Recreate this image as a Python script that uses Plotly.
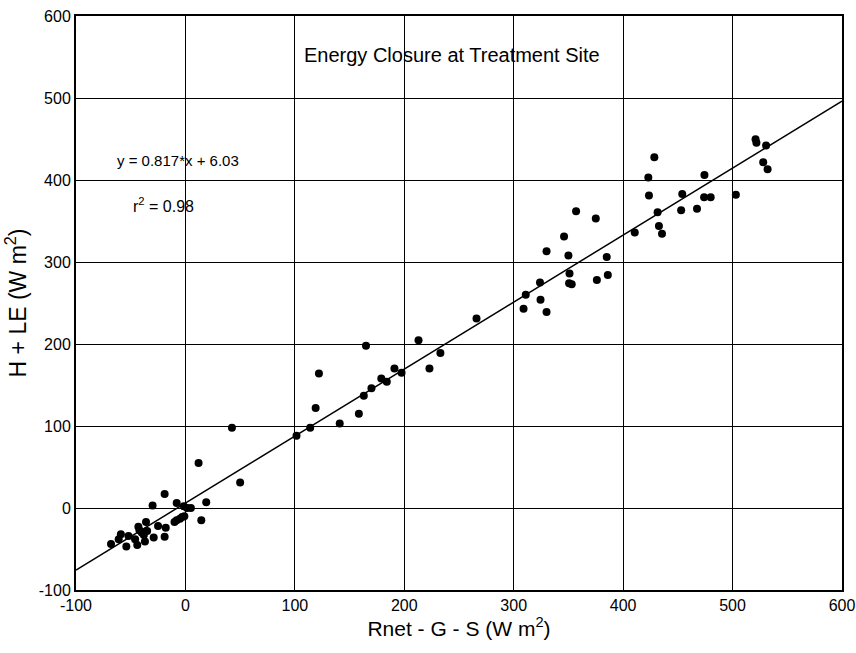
import plotly.graph_objects as go

# Observed points: Rnet - G - S (x) vs H + LE (y), W m^-2
x_obs = [-68, -61, -59, -54, -52, -44, -46, -43, -42, -40, -38, -35, -37, -36, -29, -30,
         -25, -19, -18, -19, -10, -8, -5, -3, -1, -8, -1.5, 1.5, 5, 12, 14.5, 19, 42.5, 50,
         101.5, 114, 119, 122, 141, 158.5, 163, 165, 170, 179, 184, 191, 197.5, 213, 223,
         233, 266, 309, 311, 324.5, 324, 330, 330, 346, 350, 351, 350.6, 353, 376, 386, 385,
         410.6, 357, 375, 423, 428.5, 423.6, 431.5, 432.7, 435.5, 453, 454, 467.5, 474,
         474.3, 480, 503, 521, 521.8, 530.6, 528, 532]
y_obs = [-44, -38, -32, -47, -34, -45, -38, -23, -27, -30, -33, -28, -41, -17, -36, 3,
         -22, 17, -24, -35, -17, -15, -13, -11, -10, 6, 2, 0, 0, 55, -15, 7, 98, 31,
         88, 98, 122, 164, 103, 115, 137, 198, 146, 158, 154, 170, 165, 204.5, 170,
         189, 231, 243, 260, 254, 275, 239, 313, 331, 308, 286, 274, 273, 278, 284, 306,
         336, 362, 353, 403, 427.6, 381, 360.6, 344, 334.5, 363, 383, 365, 379,
         406, 379, 382, 449.6, 445.5, 442, 421.6, 413]

# Linear fit
slope = 0.817
intercept = 6.03
fit_x = [-100, 600]
fit_y = [slope * v + intercept for v in fit_x]

x_ticks = [-100, 0, 100, 200, 300, 400, 500, 600]
x_tick_labels = ["-100", "0", "100", "200", "300", "400", "500", "600"]
y_ticks = [-100, 0, 100, 200, 300, 400, 500, 600]
y_tick_labels = ["-100", "0", "100", "200", "300", "400", "500", "600"]

FONT = "Liberation Sans, Arial"

fig = go.Figure()
fig.add_trace(go.Scatter(x=fit_x, y=fit_y, mode="lines",
                         line=dict(color="black", width=1.5), showlegend=False))
fig.add_trace(go.Scatter(x=x_obs, y=y_obs, mode="markers",
                         marker=dict(color="black", size=8), showlegend=False))

ax_common = dict(showgrid=True, gridcolor="black", gridwidth=1, zeroline=False,
                 showline=True, linecolor="black", linewidth=2, mirror=True,
                 automargin=False,
                 ticks="", tickfont=dict(family=FONT, size=16, color="black"))

fig.update_xaxes(range=[-100, 600], tickvals=x_ticks, ticktext=x_tick_labels,
                 title=dict(text="Rnet - G - S (W m<sup>2</sup>)",
                            font=dict(family=FONT, size=21, color="black"),
                            standoff=8),
                 **ax_common)
fig.update_yaxes(range=[-100, 600], tickvals=y_ticks, ticktext=y_tick_labels,
                 title=dict(text="H + LE (W m<sup>2</sup>)",
                            font=dict(family=FONT, size=23, color="black"),
                            standoff=6),
                 **ax_common)

fig.add_annotation(x=244, y=553, text="Energy Closure at Treatment Site", showarrow=False,
                   font=dict(family=FONT, size=20, color="black"))
fig.add_annotation(x=-64, y=424, text="y = 0.817*x + 6.03", showarrow=False, xanchor="left",
                   font=dict(family=FONT, size=15, color="black"))
fig.add_annotation(x=-50, y=370, text="r<sup>2</sup> = 0.98", showarrow=False, xanchor="left",
                   font=dict(family=FONT, size=16, color="black"))

fig.update_layout(width=856, height=653, margin=dict(l=76, r=14, t=16, b=63),
                  plot_bgcolor="white", paper_bgcolor="white")

fig.write_html("out.html")
